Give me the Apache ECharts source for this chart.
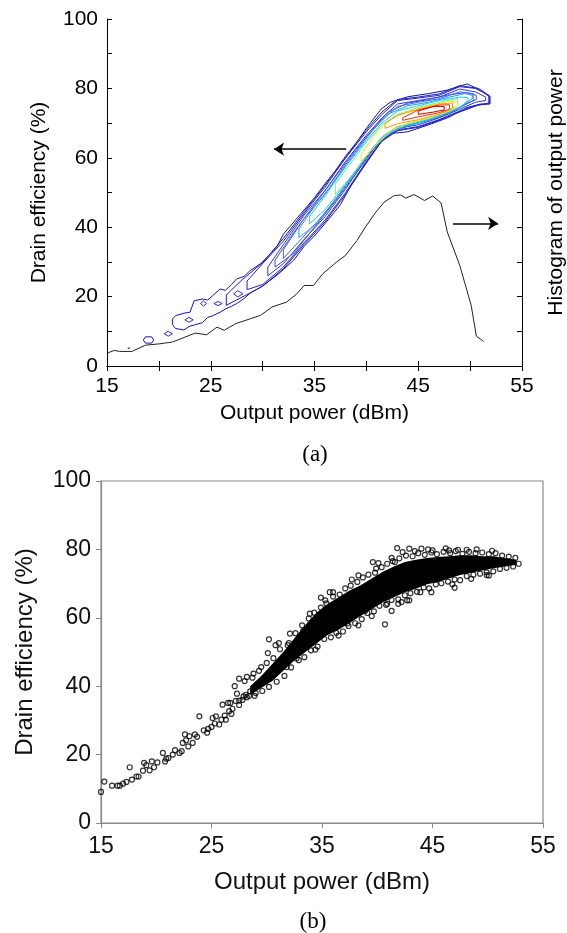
<!DOCTYPE html>
<html>
<head>
<meta charset="utf-8">
<script src="https://cdn.jsdelivr.net/npm/echarts/dist/echarts.min.js"></script>
<style>
html,body{margin:0;padding:0;background:#fff;}
#chart{width:567px;height:933px;}
</style>
</head>
<body>
<div id="chart"></div>
<script>
// ---- (a) contour bands: [power, lower efficiency, upper efficiency]
var contour1 = [[21.3,12,13.5],[21.6,10.8,14.5],[22.4,10.4,15.2],[23.0,11.5,15.5],[23.4,11.8,18.8],[24.2,12.5,19.3],[24.7,14.0,19.0],[25.2,14.5,20.3],[25.9,15.5,22.2],[26.4,16.4,21.8],[27.0,17.2,23.5],[27.5,18.0,25.1],[28.2,19.4,25.8],[28.8,21.0,27.5],[29.8,22.7,29.5],[30.5,24.2,31.5],[31.4,26.2,34.5],[32.0,27.8,38.0],[33.0,30.5,41.5],[34,34.5,45],[35,37.5,48.5],[36,41,52.5],[37.5,46.5,58],[38.5,52,62],[40,58.5,68.5],[41.4,64.5,74],[42.3,67,76],[44,67.5,77.6],[46,69.5,78.5],[47.8,71.5,79.5],[49.7,74.5,81.3],[51,75.5,79.5],[51.9,75.5,77.5]];
var contour1b = [[26.5,17.5,20.5],[28,19.8,24.8],[30,23,29.8],[32,28,36.8],[34,35,44.5],[36,41.5,52],[38,49.5,60.5],[40,58.8,68],[41.5,64.8,73.2],[43,67.8,76.8],[45,68.8,77.5],[47,70.8,78.4],[49,73.2,80.8],[50.8,75.2,80],[51.9,75.6,77.8]];
var contour2 = [[28.5,22,24.5],[30,23.5,29.5],[32,28.5,36],[34,35.5,44],[36,42,51.5],[38,50,60],[40,59,67.5],[41.5,65,72.5],[43,68,76.5],[45,69,77.2],[47,71,78],[49,73.5,80.5],[50.5,75,80],[51.8,75.8,78]];
var contour3 = [[30.5,26,28.5],[32,29.5,35],[34,36.5,43.5],[36,43,50.5],[38,51,59],[40,60,66.5],[41.5,65.5,71.5],[43,68.5,75.5],[45,69.5,76.5],[47,71.5,77.5],[49,74,79.8],[50.5,76,79],[51.5,76.5,77.5]];
var contour3b = [[31.2,28.5,30.5],[33,32.5,38.5],[35,40,46.5],[37,47.5,54.5],[39,55.5,62.5],[40.8,62.8,68.8],[42,66.5,73],[44,69.2,75.8],[46,70.8,76.8],[48,72.8,78.2],[49.6,75.5,78.8],[50.6,76.8,78]];
var contour4 = [[32,31,33.5],[34,37.5,42.5],[36,44,49.5],[38,52,58],[40,60.5,66],[41.5,66,70.8],[43,69,74.8],[45,70,76],[47,72,77],[49,74.5,79],[50.3,76.5,78.5]];
var contour5 = [[33.5,37,39.5],[35,40.5,46],[37,48,53.5],[39,56,61.5],[40.5,62.5,67.5],[42,67,72.5],[44,69.5,75],[46,71,76],[48,73,77.5],[49.5,75.5,78.5],[50.2,77,78]];
var contour6 = [[34.5,41,43],[36,45,49],[38,52.5,57.5],[40,60.5,65],[41.5,65.5,70],[43,68.5,73.5],[45,70,75],[47,72,76.5],[49,74.5,77.5],[49.8,76.5,77.3]];
var contour7 = [[37,49.5,52.5],[38.5,54.5,58.5],[40,60.5,64.5],[41.5,66,69.5],[43,69,72.5],[45,70.5,74.5],[47,72.5,76],[48.8,75,77]];
var contour8 = [[39.5,59,61],[41,64,67.5],[42.5,68,71.5],[44,70,73.5],[46,71.5,75],[48,73.5,76.3],[48.8,75,76]];
var contour9 = [[41.8,68.5,70],[43,69.8,72.2],[45,71,74],[47,72.5,75.5],[48.3,74.2,75.8]];
var contour10 = [[43.5,70.8,71.5],[45,71.8,73.8],[47,73,75.2],[48,74,75.3]];
var contour11 = [[45,72.5,73.5],[46.5,73.2,74.8],[47.5,73.8,74.8]];
var contourColors = ['#1414b0','#1c1cc0','#2424cc','#3038da','#3a4ae6','#3c66ee','#2a98f2','#14d0f0','#60eea0','#e8ec10','#ff9c00','#ff3000','#cc0000'];

// small islands of the lowest level
var islands = [
  [[18.5,7.5,7.5],[18.7,6.6,8.4],[19.3,6.6,8.4],[19.5,7.5,7.5]],
  [[20.5,9.3,9.3],[20.9,8.6,10],[21.3,9.3,9.3]],
  [[22.5,13.3,13.3],[22.9,12.6,14],[23.3,13.3,13.3]],
  [[24,18,18],[24.3,17.3,18.7],[24.6,18,18]],
  [[25.3,18,18],[25.7,17.4,18.6],[26.1,18,18]],
  [[27.2,20.8,20.8],[27.6,19.9,21.7],[28.1,20.8,20.8]],
  [[17.0,5.1,5.1],[17.2,5.1,5.1]]
];

// (a) histogram of output power (right axis, same 0-100 frame)
var histPower = [15.1,15.7,16.2,17.4,18.7,20.1,21.3,22.5,23.5,24.6,25.6,26.3,27.4,28.8,29.8,30.9,32.3,33.3,34.0,34.9,35.8,37.1,38.0,39.1,39.9,40.8,41.7,42.7,43.3,43.8,44.6,45.6,46.4,47.2,47.8,49.0,50.1,50.6,51.3];
var histLevel = [3.8,4.5,4.2,4.2,6.0,6.4,6.9,8.3,9.5,9.0,11.2,10.3,12.2,13.6,14.6,17.0,18.4,20.8,23.2,23.2,26.6,29.9,31.9,36.2,40.0,43.9,47.2,49.1,49.3,48.4,49.4,47.7,49.0,47.0,38.6,29.0,17.5,8.6,7.1];

// (b) measured drain efficiency vs output power
var scatterLow = [
  [15.0,9.1],[15.3,12.1],[16.0,10.9],[16.5,10.9],[16.7,10.9],[17.0,11.5],[17.3,12.0],[17.6,16.3],[17.8,12.7],[18.2,13.6],[18.4,13.6],[18.8,15.3],[18.9,17.6],[19.1,16.9],[19.4,15.4],[19.6,18.0],[19.8,16.3],[20.1,17.7],[20.6,20.5],[20.8,18.0],[20.9,18.8],[21.1,19.0],[21.5,20.0],[21.7,21.3],[22.1,20.5],[22.3,21.0],[22.4,23.4],[22.6,25.9],[22.7,24.2],[22.9,22.4],[23.0,25.4],[23.3,23.4],[23.5,25.9],[23.7,25.2],[23.9,31.2],[24.3,27.1],[24.6,26.4],[24.7,27.5],[25.0,28.1],[25.1,30.7],[25.3,29.1],[25.4,31.2],[25.7,28.8],[25.9,30.2],[26.0,34.6],[26.2,31.4],[26.3,30.2],[26.6,32.7],[26.7,35.1],[26.8,31.9],[26.9,33.4],[27.2,35.7],[27.5,34.5],
  [27.8,36],[28.1,37.5],[28.5,38.5],[28.8,39.2],[29.2,40],[29.5,41],[29.8,41.5],[30.1,42.5],[27.5,35.8],[27.9,37.0],[28.4,37.2],[29.0,38.0],[27.1,40.0],[27.3,37.8],[26.5,35.1]
];
var scatterOutliers = [
  [28.2,42.7],[30.2,53.7],[30.1,49.7],[31.1,52.6],[32.0,52.6],[33.3,56.1],[33.7,52.9],[34.4,50.7],[33.9,61.2],[34.9,65.9],[35.3,65.1],[35.7,67.5],[36.0,67.5],[32.7,48.1],[31.8,45.6],[30.7,43.7],[37.7,71.2],[38.3,72.4],[39.6,76.3],[40.7,58.1],[41.8,80.4],[42.3,79.2],[42.9,80.2],[44.0,80.2],[45.0,79.7],[46.5,79.7],[47.3,79.9],[48.1,79.9],[41.9,64.1],[42.7,65.1],[38.9,62.0],[37.3,58.3],[38.3,57.8],[44.9,67.5],[47.0,68.8],[48.5,71.4],[50.1,72.4],[39.9,74.4],[41.6,76.3],[38.6,63.2],[37.2,61.2],[36.2,59.3],[36.8,63.2],[34.7,60.2],[32.1,55.4],[30.8,52.0],[29.5,45.6],[28.8,43.7],[27.5,42.2],[43.9,67.5],[40.9,64.1],[41.3,62.0],[42.9,65.1]
];
var scatterUpperEdge = [[28.0,41.5],[28.7,42.5],[29.3,44.5],[30.0,46.8],[30.6,48.2],[31.2,50.8],[31.9,52.0],[32.6,55.5],[33.2,57.8],[33.8,59.8],[34.3,61.5],[34.9,63.0],[35.4,64.2],[36.0,66.2],[36.6,66.8],[37.1,68.6],[37.6,69.4],[38.2,70.5],[38.7,71.8],[39.2,72.6],[39.8,73.2],[40.4,74.8],[40.9,75.8],[41.4,76.6],[42.0,77.4],[42.6,78.2],[43.2,78.0],[43.7,78.9],[44.3,78.4],[44.9,79.1],[45.4,78.6],[46.0,79.3],[46.6,78.9],[47.1,79.5],[47.7,78.7],[48.3,79.3],[48.9,78.9],[49.5,79.1],[50.1,78.6],[50.7,78.9],[51.3,78.2],[51.9,77.9],[52.5,77.5],[44.6,80.0],[46.2,80.3],[43.4,79.5],[49.0,80.0],[50.4,79.6],[41.3,77.5],[40.1,76.0]];
var scatterLowerEdge = [[28.2,36.8],[28.9,37.2],[29.6,38.6],[30.2,39.8],[30.9,41.3],[31.6,43.0],[32.2,45.5],[32.9,47.6],[33.4,48.5],[34.0,50.5],[34.6,51.6],[35.2,53.8],[35.8,54.3],[36.3,55.6],[36.9,56.0],[37.4,57.6],[38.0,58.4],[38.6,59.6],[39.1,61.4],[39.7,61.9],[40.2,63.5],[40.8,63.8],[41.3,65.2],[41.9,65.4],[42.5,66.6],[43.0,67.2],[43.6,67.6],[44.2,68.9],[44.7,68.6],[45.3,69.8],[45.8,70.1],[46.4,70.6],[47.0,71.2],[47.5,71.0],[48.1,72.2],[48.7,72.6],[49.3,72.9],[49.9,73.3],[50.5,73.6],[51.1,74.3],[51.7,74.6],[52.3,75.0],[52.8,75.8],[36.5,54.8],[39.5,60.5],[42.2,64.6],[46.8,69.8],[49.9,72.5]];
// dense core of the cloud (outline)
var coreOutline = [[28.5,37.5],[29.5,39.5],[30.5,41.5],[31.5,44.5],[32.5,47.5],[33.5,50],[34.5,52.5],[35.5,55],[36.5,56.5],[37.5,58.5],[38.5,60.5],[39.5,62.5],[40.5,64.5],[41.5,66],[42.5,67.5],[43.5,68.5],[44.5,69.8],[45.5,70.5],[46.5,71.5],[47.5,72.5],[48.5,73.2],[49.5,73.8],[50.5,74.5],[51.5,75],[52.6,75.5],
  [52.6,77],[51.5,77.5],[50.5,78],[49.5,78],[48.5,78.3],[47.5,78.3],[46.5,78],[45.5,77.8],[44.5,77.5],[43.5,77],[42.5,76.3],[41.5,75],[40.5,73.5],[39.5,71.5],[38.5,69.5],[37.5,68],[36.5,66],[35.5,64],[34.5,61.5],[33.5,58],[32.5,54],[31.5,50],[30.5,46.5],[29.5,43],[28.5,40]];

var xLabelsA = [15,25,35,45,55];
var yLabelsA = [0,20,40,60,80,100];

function ring(band) {
  var lo = band.map(function(b){ return [b[0], b[1]]; });
  var hi = band.slice().reverse().map(function(b){ return [b[0], b[2]]; });
  return lo.concat(hi, [lo[0]]);
}

var chart = echarts.init(document.getElementById('chart'));
var sans = '"Liberation Sans", Arial, sans-serif';
var series = [];
var levels = [contour1,contour1b,contour2,contour3,contour3b,contour4,contour5,contour6,contour7,contour8,contour9,contour10,contour11];
for (var i = 0; i < levels.length; i++) {
  series.push({
    type:'line', xAxisIndex:0, yAxisIndex:0, showSymbol:false, silent:true,
    data:ring(levels[i]),
    lineStyle:{color:contourColors[i], width:1}
  });
}
for (var k = 0; k < islands.length; k++) {
  series.push({
    type:'line', xAxisIndex:0, yAxisIndex:0, showSymbol:false, silent:true,
    data:ring(islands[k]),
    lineStyle:{color:k == 0 ? '#1414b0' : '#2a2ad0', width:1}
  });
}
series.push({
  type:'line', xAxisIndex:0, yAxisIndex:1, showSymbol:false, silent:true,
  data:histPower.map(function(p, j){ return [p, histLevel[j]]; }),
  lineStyle:{color:'#222', width:1},
  markLine:{
    silent:true, symbol:['none','arrow'], symbolSize:10,
    label:{show:false},
    lineStyle:{color:'#000', width:1.5, type:'solid'},
    data:[
      [{coord:[38.05,62.5]},{coord:[31.1,62.5]}],
      [{coord:[48.35,41.1]},{coord:[52.7,41.1]}]
    ]
  }
});
series.push({
  type:'custom', xAxisIndex:2, yAxisIndex:2, silent:true,
  data:coreOutline,
  renderItem:function(params, api){
    if (params.dataIndex !== 0) return;
    var pts = coreOutline.map(function(p){ return api.coord(p); });
    return {type:'polygon', shape:{points:pts}, style:{fill:'#000'}};
  }
});
series.push({
  type:'scatter', xAxisIndex:2, yAxisIndex:2, silent:true,
  data:scatterLow.concat(scatterOutliers, scatterUpperEdge, scatterLowerEdge),
  symbol:'circle', symbolSize:5,
  itemStyle:{color:'rgba(0,0,0,0)', borderColor:'#000', borderWidth:1.2}
});

var option = {
  animation:false,
  backgroundColor:'#fff',
  grid:[
    {left:107, top:19, width:415, height:347, outerBoundsMode:'none'},
    {left:101, top:481, width:442, height:342, show:true, borderColor:'#8a8a8a', borderWidth:1.2, outerBoundsMode:'none'}
  ],
  xAxis:[
    {gridIndex:0, type:'value', min:15, max:55, interval:5, position:'bottom',
     axisLine:{lineStyle:{color:'#000', width:1}},
     axisTick:{inside:true, length:5, lineStyle:{color:'#000'}},
     axisLabel:{color:'#000', fontSize:21, fontFamily:sans, margin:10,
       formatter:function(v){ return xLabelsA.indexOf(v) >= 0 ? String(v) : ''; }},
     splitLine:{show:false},
     name:'Output power (dBm)', nameLocation:'middle', nameGap:37,
     nameTextStyle:{color:'#000', fontSize:21, fontFamily:sans}},
    {gridIndex:0, type:'value', min:15, max:55, interval:5, position:'top',
     axisLine:{lineStyle:{color:'#000', width:1}},
     axisTick:{inside:true, length:5, lineStyle:{color:'#000'}},
     axisLabel:{show:false}, splitLine:{show:false}},
    {gridIndex:1, type:'value', min:15, max:55, interval:10,
     axisLine:{lineStyle:{color:'#8a8a8a', width:1.2}},
     axisTick:{inside:false, length:5, lineStyle:{color:'#8a8a8a'}},
     axisLabel:{color:'#111', fontSize:23, fontFamily:sans, margin:12},
     splitLine:{show:false},
     name:'Output power (dBm)', nameLocation:'middle', nameGap:47,
     nameTextStyle:{color:'#111', fontSize:24, fontFamily:sans}}
  ],
  yAxis:[
    {gridIndex:0, type:'value', min:0, max:100, interval:10,
     axisLine:{show:true, lineStyle:{color:'#000', width:1}},
     axisTick:{show:true, inside:true, length:5, lineStyle:{color:'#000'}},
     axisLabel:{color:'#000', fontSize:21, fontFamily:sans, margin:9,
       formatter:function(v){ return yLabelsA.indexOf(v) >= 0 ? String(v) : ''; }},
     splitLine:{show:false},
     name:'Drain efficiency (%)', nameLocation:'middle', nameGap:57, nameRotate:90,
     nameTextStyle:{color:'#000', fontSize:21, fontFamily:sans}},
    {gridIndex:0, type:'value', min:0, max:100, interval:10, position:'right',
     axisLine:{show:true, lineStyle:{color:'#000', width:1}},
     axisTick:{show:true, inside:true, length:5, lineStyle:{color:'#000'}},
     axisLabel:{show:false}, splitLine:{show:false},
     name:'Histogram of output power', nameLocation:'middle', nameGap:24, nameRotate:90,
     nameTextStyle:{color:'#000', fontSize:21, fontFamily:sans}},
    {gridIndex:1, type:'value', min:0, max:100, interval:20,
     axisLine:{show:true, lineStyle:{color:'#8a8a8a', width:1.2}},
     axisTick:{show:true, inside:false, length:5, lineStyle:{color:'#8a8a8a'}},
     axisLabel:{color:'#111', fontSize:23, fontFamily:sans, margin:10},
     splitLine:{show:false},
     name:'Drain efficiency (%)', nameLocation:'middle', nameGap:64, nameRotate:90,
     nameTextStyle:{color:'#111', fontSize:24, fontFamily:sans}}
  ],
  graphic:[
    {type:'text', x:315, y:455, style:{text:'(a)', font:'23px "Liberation Serif", serif', fill:'#000', textAlign:'center', textVerticalAlign:'middle'}},
    {type:'text', x:313, y:922, style:{text:'(b)', font:'23px "Liberation Serif", serif', fill:'#000', textAlign:'center', textVerticalAlign:'middle'}}
  ],
  series:series
};
chart.setOption(option);
</script>
</body>
</html>
